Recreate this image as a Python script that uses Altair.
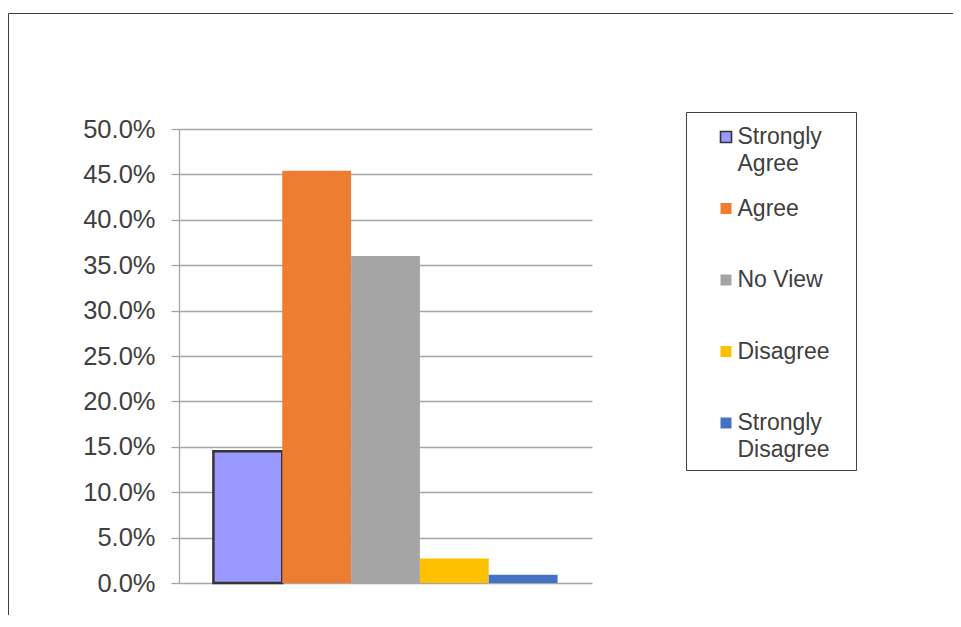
import altair as alt
import pandas as pd

categories = ["Strongly Agree", "Agree", "No View", "Disagree", "Strongly Disagree"]
shares = [0.145, 0.454, 0.360, 0.027, 0.009]
colors = ["#9999FF", "#ED7D31", "#A5A5A5", "#FFC000", "#4472C4"]
outlines = ["#333333", "transparent", "transparent", "transparent", "transparent"]
y_ticks = [0.0, 0.05, 0.10, 0.15, 0.20, 0.25, 0.30, 0.35, 0.40, 0.45, 0.50]

df = pd.DataFrame({"category": categories, "share": shares})
one = pd.DataFrame({"k": [0]})

FONT = "Liberation Sans"
TEXT = "#404040"
GRID = "#A6A6A6"

label_expr = (
    "datum.label == 'Strongly Agree' ? ['Strongly', 'Agree'] : "
    "datum.label == 'Strongly Disagree' ? ['Strongly', 'Disagree'] : "
    "[datum.label, '']"
)

frame = alt.Chart(one).mark_rect(fill="transparent", stroke="#3F3F3F", strokeWidth=1).encode(
    x=alt.value(-170.5), x2=alt.value(800), y=alt.value(-115.5), y2=alt.value(520)
)

legend_frame = alt.Chart(one).mark_rect(fill="transparent", stroke="#404040", strokeWidth=1).encode(
    x=alt.value(507.5), x2=alt.value(677.5), y=alt.value(-16.5), y2=alt.value(341.5)
)

bars = alt.Chart(df).mark_bar(strokeWidth=2.5).encode(
    x=alt.X("category:N", sort=categories, axis=None,
            scale=alt.Scale(paddingInner=0, paddingOuter=0.5)),
    y=alt.Y("share:Q",
            scale=alt.Scale(domain=[0, 0.5], nice=False),
            axis=alt.Axis(values=y_ticks, format=".1%", title=None,
                          labelFont=FONT, labelFontSize=25.5, labelColor=TEXT,
                          labelPadding=16, tickSize=8, tickColor=GRID,
                          domainColor=GRID, gridColor=GRID, gridWidth=1.3,
                          tickWidth=1.3, domainWidth=1.3)),
    color=alt.Color("category:N", sort=categories,
                    scale=alt.Scale(domain=categories, range=colors),
                    legend=alt.Legend(title=None, orient="none", legendX=529.5, legendY=-3.5,
                                      labelExpr=label_expr, labelFont=FONT,
                                      labelFontSize=23, labelColor=TEXT,
                                      symbolType="square", symbolSize=121,
                                      symbolStrokeWidth=1.6, symbolOffset=6,
                                      labelOffset=0,
                                      rowPadding=21.5, padding=0, labelLimit=200)),
    stroke=alt.Stroke("category:N", sort=categories,
                      scale=alt.Scale(domain=categories, range=outlines),
                      legend=alt.Legend(title=None)),
)

chart = alt.layer(frame, legend_frame, bars).properties(
    width=413,
    height=454,
    autosize=alt.AutoSizeParams(type="none"),
    padding={"left": 171, "top": 121, "right": 361, "bottom": 32},
).configure(
    style={"guide-label": {"lineHeight": 26.5}}
).configure_view(stroke=None)

chart.save("out.html", embed_options={"renderer": "svg", "actions": False})
